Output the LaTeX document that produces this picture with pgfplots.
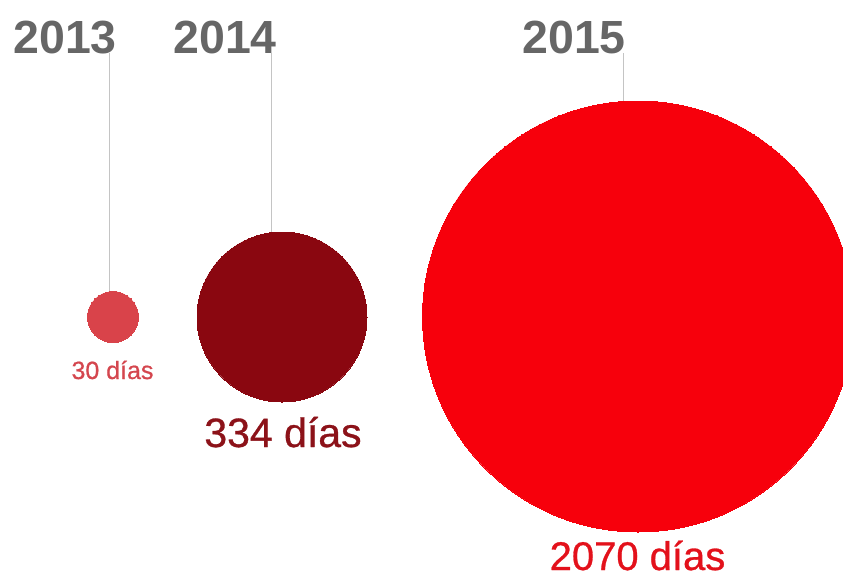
\documentclass[border=0pt]{standalone}
\usepackage{fontspec}
\setmainfont{Liberation Sans}
\newfontfamily\medfont[FakeBold=0.7]{Liberation Sans}
\usepackage{pgfplots}
\pgfplotsset{compat=1.18}
\definecolor{grey}{HTML}{666666}
\definecolor{lineg}{HTML}{C4C4C4}
\definecolor{c13}{HTML}{D9434A}
\definecolor{t13}{HTML}{D4464E}
\definecolor{c14}{HTML}{8A0710}
\definecolor{t14}{HTML}{8C1219}
\definecolor{c15}{HTML}{F7000C}
\definecolor{t15}{HTML}{E3111B}
\begin{document}
\begin{tikzpicture}
\begin{axis}[
  width=843pt, height=579pt, scale only axis,
  xmin=0, xmax=843, ymin=0, ymax=579, y dir=reverse,
  hide axis, clip=true, clip marker paths=true,
]
% leader lines
\addplot[lineg, line width=1pt] coordinates {(109.5,53) (109.5,292)};
\addplot[lineg, line width=1pt] coordinates {(271,53) (271,233)};
\addplot[lineg, line width=1pt] coordinates {(623,53) (623,102)};
% circles (area ~ days)
\addplot[c13, only marks, mark=*, mark size=25.5pt, mark options={draw=c13, fill=c13, line width=0pt}] coordinates {(113,317)};
\addplot[c14, only marks, mark=*, mark size=85pt, mark options={draw=c14, fill=c14, line width=0pt}] coordinates {(282,317)};
\addplot[c15, only marks, mark=*, mark size=215.5pt, mark options={draw=c15, fill=c15, line width=0pt}] coordinates {(638,316.5)};
% year labels
\node[anchor=base east, inner sep=0pt, text=grey, font=\fontsize{46.5}{50}\selectfont\bfseries] at (axis cs:117,53) {2013};
\node[anchor=base east, inner sep=0pt, text=grey, font=\fontsize{46.5}{50}\selectfont\bfseries] at (axis cs:277,53) {2014};
\node[anchor=base east, inner sep=0pt, text=grey, font=\fontsize{46.5}{50}\selectfont\bfseries] at (axis cs:626,53) {2015};
% value labels
\node[anchor=base, inner sep=0pt, text=t13, font=\medfont\fontsize{25}{28}\selectfont] at (axis cs:112.5,379) {30 días};
\node[anchor=base, inner sep=0pt, text=t14, font=\medfont\fontsize{41}{45}\selectfont] at (axis cs:283,447) {334 días};
\node[anchor=base, inner sep=0pt, text=t15, font=\medfont\fontsize{40}{44}\selectfont] at (axis cs:637.5,570) {2070 días};
\coordinate (ll) at (rel axis cs:0,0);
\coordinate (ur) at (rel axis cs:1,1);
\end{axis}
\pgfresetboundingbox
\path[use as bounding box] (ll) rectangle (ur);
\end{tikzpicture}
\end{document}
